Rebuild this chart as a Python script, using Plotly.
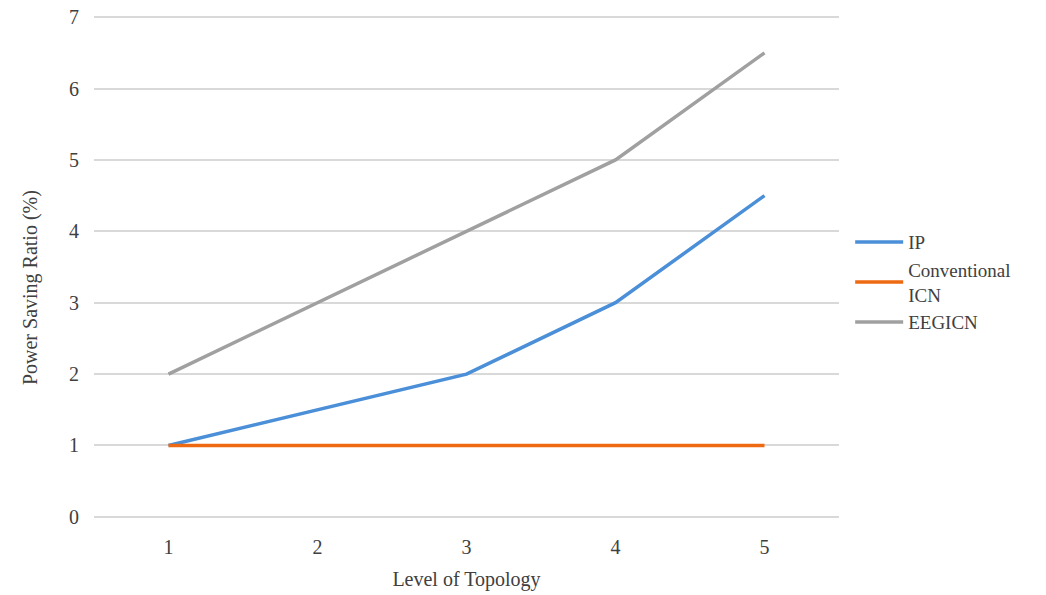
import plotly.graph_objects as go

levels = ["1", "2", "3", "4", "5"]
ip = [1, 1.5, 2, 3, 4.5]
conventional_icn = [1, 1, 1, 1, 1]
eegicn = [2, 3, 4, 5, 6.5]

FONT = "Liberation Serif, Times New Roman, serif"
TEXT = "#404040"
GRID = "#D9D9D9"

fig = go.Figure()
fig.add_trace(go.Scatter(x=levels, y=ip, mode="lines", name="IP",
                         line=dict(color="#4A8FD8", width=3.5)))
fig.add_trace(go.Scatter(x=levels, y=conventional_icn, mode="lines",
                         name="Conventional<br>ICN",
                         line=dict(color="#EE6A12", width=3.5)))
fig.add_trace(go.Scatter(x=levels, y=eegicn, mode="lines", name="EEGICN",
                         line=dict(color="#A0A0A0", width=3.5)))

# y-axis title placed as an annotation, centred a little below the plot middle
fig.add_annotation(text="Power Saving Ratio (%)", xref="paper", yref="paper",
                   x=-0.086, y=0.46, xanchor="center", yanchor="middle",
                   textangle=-90, showarrow=False,
                   font=dict(family=FONT, size=20, color=TEXT))

fig.update_layout(
    width=1046, height=595,
    margin=dict(l=94, r=207, t=15, b=76, autoexpand=False),
    paper_bgcolor="white", plot_bgcolor="white",
    font=dict(family=FONT, size=20, color=TEXT),
    showlegend=True,
    legend=dict(x=1.015, y=0.47, xanchor="left", yanchor="middle",
                font=dict(family=FONT, size=19, color=TEXT),
                tracegroupgap=0, itemwidth=48),
    xaxis=dict(type="category", range=[-0.5, 4.5], showgrid=False,
               zeroline=False, showline=False, ticks="", automargin=False,
               ticklabelstandoff=14,
               title=dict(text="Level of Topology", standoff=14,
                          font=dict(family=FONT, size=20, color=TEXT))),
    yaxis=dict(range=[-0.03, 7.03], dtick=1, tick0=0, showgrid=True,
               gridcolor=GRID, gridwidth=1.5, automargin=False,
               zeroline=True, zerolinecolor=GRID, zerolinewidth=1.5,
               showline=False, ticks="", ticklabelstandoff=14),
)

fig.write_html("out.html")
